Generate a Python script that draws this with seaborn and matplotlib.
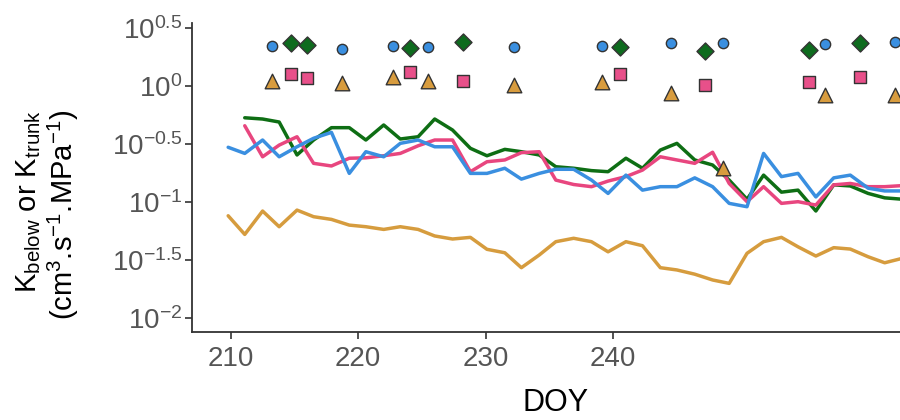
import numpy as np
import pandas as pd
import matplotlib
matplotlib.use("Agg")
import matplotlib.pyplot as plt
import seaborn as sns

# day of year for the continuous series
doy = [209.8, 211.1, 212.5, 213.8, 215.2, 216.5, 217.9, 219.3, 220.6, 222.0,
       223.3, 224.7, 226.0, 227.4, 228.8, 230.1, 231.5, 232.8, 234.2, 235.5,
       236.9, 238.3, 239.6, 241.0, 242.3, 243.7, 245.0, 246.4, 247.8, 249.1,
       250.5, 251.8, 253.2, 254.5, 255.9, 257.3, 258.6, 260.0, 261.3, 262.7]

k_green = [np.nan, 0.533, 0.520, 0.490, 0.255, 0.343, 0.438, 0.438, 0.343, 0.462,
           0.350, 0.366, 0.520, 0.418, 0.291, 0.251, 0.285, 0.272, 0.255, 0.202,
           0.196, 0.187, 0.183, 0.239, 0.196, 0.281, 0.321, 0.231, 0.209, 0.155,
           0.106, 0.171, 0.122, 0.127, 0.084, 0.141, 0.138, 0.119, 0.109, 0.106]

k_pink = [np.nan, 0.455, 0.246, 0.310, 0.366, 0.216, 0.205, 0.239, 0.241, 0.251,
          0.263, 0.306, 0.343, 0.343, 0.183, 0.223, 0.231, 0.267, 0.272, 0.155,
          0.142, 0.136, 0.152, 0.166, 0.189, 0.246, 0.231, 0.216, 0.269, 0.145,
          0.101, 0.136, 0.0977, 0.101, 0.0945, 0.141, 0.145, 0.136, 0.136, 0.139]

k_blue = [0.297, 0.263, 0.343, 0.246, 0.300, 0.355, 0.399, 0.177, 0.272, 0.246,
          0.321, 0.343, 0.300, 0.300, 0.177, 0.177, 0.196, 0.158, 0.177, 0.192,
          0.192, 0.155, 0.119, 0.171, 0.127, 0.136, 0.136, 0.162, 0.136, 0.0977,
          0.0914, 0.263, 0.166, 0.177, 0.111, 0.162, 0.171, 0.132, 0.125, 0.125]

k_orange = [0.0764, 0.0528, 0.0839, 0.0615, 0.0855, 0.0750, 0.0711, 0.0635, 0.0615, 0.0583,
            0.0615, 0.0583, 0.0512, 0.0482, 0.0498, 0.0393, 0.0367, 0.0273, 0.0351, 0.0457,
            0.0489, 0.0457, 0.0374, 0.0457, 0.0422, 0.0273, 0.0261, 0.0240, 0.0214, 0.0200,
            0.0363, 0.0457, 0.0498, 0.0413, 0.0344, 0.0406, 0.0395, 0.0339, 0.0301, 0.0329]

# point measurements (circle + triangle days, diamond + square days)
doy_a = [213.2, 218.7, 222.7, 225.5, 232.2, 239.1, 244.5, 248.6, 256.6, 262.1]
circle_vals = [2.22, 2.08, 2.22, 2.15, 2.15, 2.22, 2.33, 2.33, 2.29, 2.41]
triangle_vals = [1.11, 1.07, 1.19, 1.11, 1.02, 1.09, 0.876, 0.196, 0.837, 0.837]

doy_b = [214.7, 216.0, 224.1, 228.2, 240.5, 247.2, 255.4, 259.4]
diamond_vals = [2.36, 2.25, 2.14, 2.38, 2.18, 2.00, 2.04, 2.36]
square_vals = [1.26, 1.18, 1.31, 1.10, 1.26, 1.03, 1.09, 1.19]

pal = {"green": "#0e6e14", "pink": "#e8467f", "blue": "#3a8fe0", "orange": "#d69c3e"}

df = pd.DataFrame({"doy": doy, "green": k_green, "pink": k_pink,
                   "blue": k_blue, "orange": k_orange})
long = df.melt(id_vars="doy", var_name="series", value_name="k").dropna()

sns.set_theme(style="ticks")
plt.rcParams["font.family"] = ["Liberation Sans", "DejaVu Sans"]
plt.rcParams["mathtext.fontset"] = "custom"
plt.rcParams["mathtext.rm"] = "Liberation Sans"
plt.rcParams["mathtext.it"] = "Liberation Sans:italic"
plt.rcParams["mathtext.bf"] = "Liberation Sans:bold"

fig = plt.figure(figsize=(9, 4.2), dpi=100)
ax = fig.add_axes([0.2133, 0.2102, 0.7867, 0.7357])

sns.lineplot(data=long, x="doy", y="k", hue="series", palette=pal,
             hue_order=["green", "pink", "blue", "orange"], estimator=None,
             sort=False, linewidth=2.5, legend=False, ax=ax)

ec = "#333333"
sns.scatterplot(x=doy_a, y=circle_vals, marker="o", s=55, color="#3a8fe0",
                edgecolor=ec, linewidth=1, zorder=5, ax=ax)
sns.scatterplot(x=doy_b, y=diamond_vals, marker="D", s=75, color="#0e6b1e",
                edgecolor=ec, linewidth=1, zorder=5, ax=ax)
sns.scatterplot(x=doy_b, y=square_vals, marker="s", s=70, color="#e8508a",
                edgecolor=ec, linewidth=1, zorder=5, ax=ax)
sns.scatterplot(x=doy_a, y=triangle_vals, marker="^", s=110, color="#d89c3e",
                edgecolor=ec, linewidth=1, zorder=5, ax=ax)

ax.set_yscale("log")
ax.set_ylim(10 ** -2.115, 10 ** 0.545)
ax.set_xlim(206.96, 262.5)
exps = ["-2", "-1.5", "-1", "-0.5", "0", "0.5"]
ax.set_yticks([10 ** float(e) for e in exps])
ax.set_yticklabels([r"$\mathregular{10^{%s}}$" % e for e in exps])
ax.yaxis.set_minor_locator(matplotlib.ticker.NullLocator())
ax.set_xticks([210, 220, 230, 240])
ax.set_xlabel("")
ax.set_ylabel("")

sns.despine(ax=ax)
for s in ["left", "bottom"]:
    ax.spines[s].set_color("#333333")
    ax.spines[s].set_linewidth(1.3)
ax.tick_params(axis="both", colors="#333333", labelcolor="#555555",
               labelsize=20, length=5, width=1.2)
ax.tick_params(axis="y", pad=2)
ax.tick_params(axis="x", pad=5)

fig.text(0.617, 0.004, "DOY", fontsize=22, color="black", ha="center",
         va="bottom")
fig.text(0.053, 0.488,
         "K$_{\\mathregular{below}}$ or K$_{\\mathregular{trunk}}$\n"
         "(cm$^{3}$.s$^{-1}$.MPa$^{-1}$)",
         rotation=90, ha="center", va="center", multialignment="right",
         fontsize=21, color="black", linespacing=1.1)

fig.savefig("out.png", dpi=100)
